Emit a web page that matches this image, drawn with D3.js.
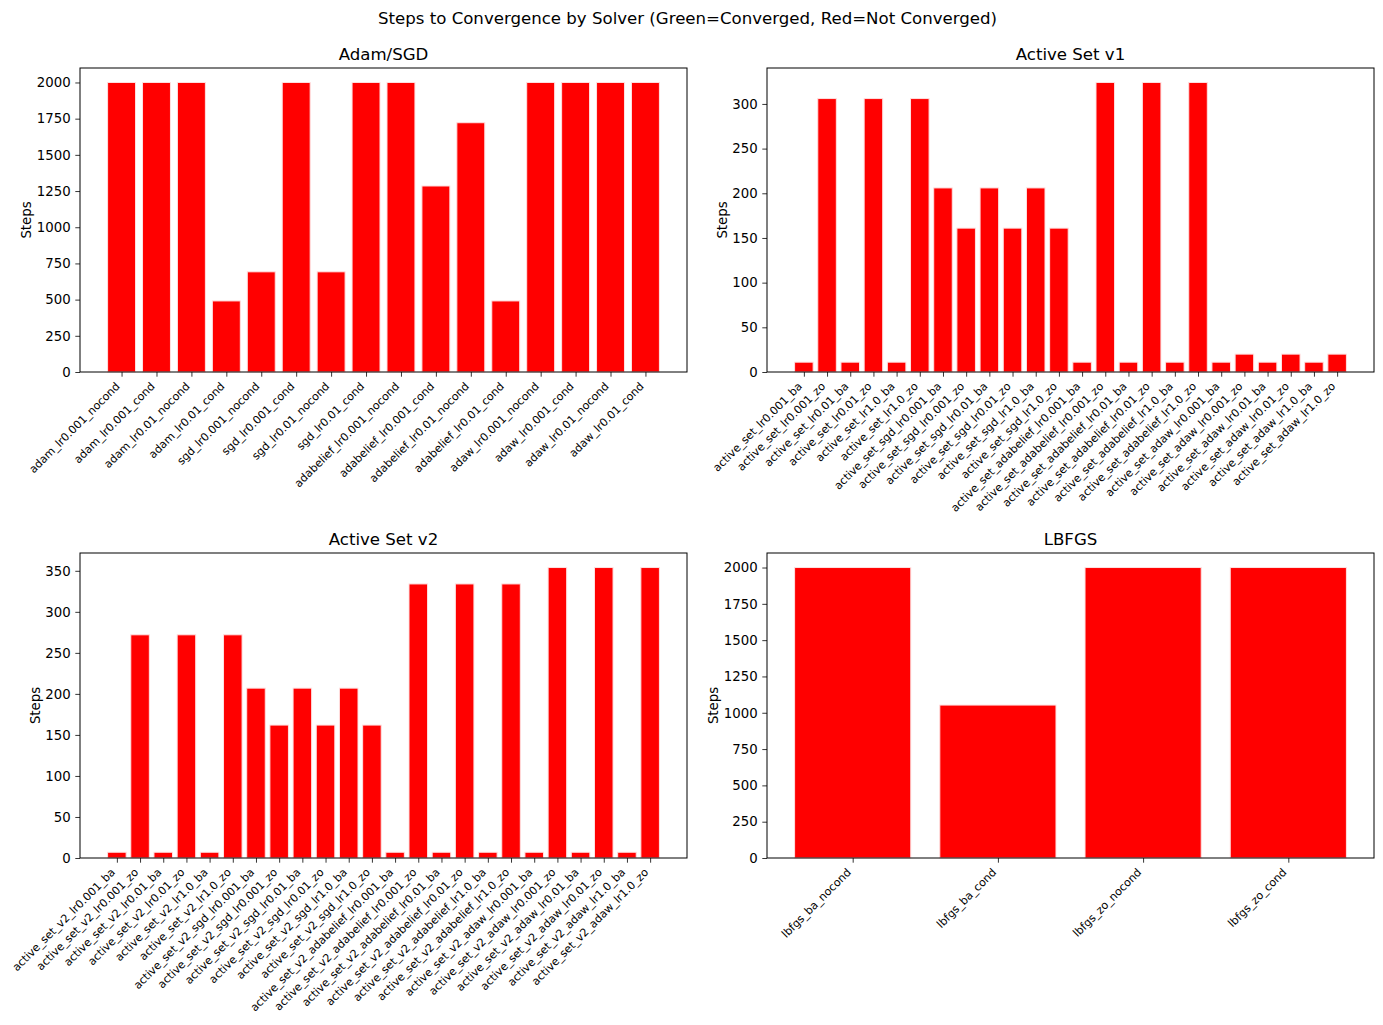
<!DOCTYPE html>
<html>
<head>
<meta charset="utf-8">
<script src="https://cdn.jsdelivr.net/npm/d3@7"></script>
<style>
  html, body { margin: 0; padding: 0; background: #fff; }
  text { font-family: "DejaVu Sans", sans-serif; fill: #000; }
</style>
</head>
<body>
<svg id="chart" width="1383" height="1025"></svg>
<script>
// ---- Data ----
const suptitle = "Steps to Convergence by Solver (Green=Converged, Red=Not Converged)";

const adamTitle = "Adam/SGD";
const adamCats = ["adam_lr0.001_nocond","adam_lr0.001_cond","adam_lr0.01_nocond","adam_lr0.01_cond",
  "sgd_lr0.001_nocond","sgd_lr0.001_cond","sgd_lr0.01_nocond","sgd_lr0.01_cond",
  "adabelief_lr0.001_nocond","adabelief_lr0.001_cond","adabelief_lr0.01_nocond","adabelief_lr0.01_cond",
  "adaw_lr0.001_nocond","adaw_lr0.001_cond","adaw_lr0.01_nocond","adaw_lr0.01_cond"];
const adamVals = [2000,2000,2000,491,692,2000,692,2000,2000,1285,1722,491,2000,2000,2000,2000];
const adamTicks = [0,250,500,750,1000,1250,1500,1750,2000];

const v1Title = "Active Set v1";
const v1Cats = ["active_set_lr0.001_ba","active_set_lr0.001_zo","active_set_lr0.01_ba","active_set_lr0.01_zo",
  "active_set_lr1.0_ba","active_set_lr1.0_zo","active_set_sgd_lr0.001_ba","active_set_sgd_lr0.001_zo",
  "active_set_sgd_lr0.01_ba","active_set_sgd_lr0.01_zo","active_set_sgd_lr1.0_ba","active_set_sgd_lr1.0_zo",
  "active_set_adabelief_lr0.001_ba","active_set_adabelief_lr0.001_zo","active_set_adabelief_lr0.01_ba","active_set_adabelief_lr0.01_zo",
  "active_set_adabelief_lr1.0_ba","active_set_adabelief_lr1.0_zo","active_set_adaw_lr0.001_ba","active_set_adaw_lr0.001_zo",
  "active_set_adaw_lr0.01_ba","active_set_adaw_lr0.01_zo","active_set_adaw_lr1.0_ba","active_set_adaw_lr1.0_zo"];
const v1Vals = [11,306,11,306,11,306,206,161,206,161,206,161,11,324,11,324,11,324,11,20,11,20,11,20];
const v1Ticks = [0,50,100,150,200,250,300];

const v2Title = "Active Set v2";
const v2Cats = ["active_set_v2_lr0.001_ba","active_set_v2_lr0.001_zo","active_set_v2_lr0.01_ba","active_set_v2_lr0.01_zo",
  "active_set_v2_lr1.0_ba","active_set_v2_lr1.0_zo","active_set_v2_sgd_lr0.001_ba","active_set_v2_sgd_lr0.001_zo",
  "active_set_v2_sgd_lr0.01_ba","active_set_v2_sgd_lr0.01_zo","active_set_v2_sgd_lr1.0_ba","active_set_v2_sgd_lr1.0_zo",
  "active_set_v2_adabelief_lr0.001_ba","active_set_v2_adabelief_lr0.001_zo","active_set_v2_adabelief_lr0.01_ba","active_set_v2_adabelief_lr0.01_zo",
  "active_set_v2_adabelief_lr1.0_ba","active_set_v2_adabelief_lr1.0_zo","active_set_v2_adaw_lr0.001_ba","active_set_v2_adaw_lr0.001_zo",
  "active_set_v2_adaw_lr0.01_ba","active_set_v2_adaw_lr0.01_zo","active_set_v2_adaw_lr1.0_ba","active_set_v2_adaw_lr1.0_zo"];
const v2Vals = [7,272,7,272,7,272,207,162,207,162,207,162,7,334,7,334,7,334,7,354,7,354,7,354];
const v2Ticks = [0,50,100,150,200,250,300,350];

const lbTitle = "LBFGS";
const lbCats = ["lbfgs_ba_nocond","lbfgs_ba_cond","lbfgs_zo_nocond","lbfgs_zo_cond"];
const lbVals = [2000,1053,2000,2000];
const lbTicks = [0,250,500,750,1000,1250,1500,1750,2000];

const yLabel = "Steps";

// ---- Layout ----
const svg = d3.select("#chart");
const panels = [
  {title: adamTitle, cats: adamCats, vals: adamVals, ticks: adamTicks, box: {l: 80, r: 687, t: 68, b: 372}},
  {title: v1Title, cats: v1Cats, vals: v1Vals, ticks: v1Ticks, box: {l: 767, r: 1374, t: 68, b: 372}},
  {title: v2Title, cats: v2Cats, vals: v2Vals, ticks: v2Ticks, box: {l: 80, r: 687, t: 553, b: 858}},
  {title: lbTitle, cats: lbCats, vals: lbVals, ticks: lbTicks, box: {l: 767, r: 1374, t: 553, b: 858}}
];

svg.append("text")
  .attr("x", 687.5).attr("y", 24)
  .attr("text-anchor", "middle")
  .style("font-size", "16.6px")
  .text(suptitle);

const tickLen = 4.7, tickPad = 4.7;

panels.forEach(p => {
  const n = p.cats.length;
  const span = (n - 1) + 0.8;
  const m = 0.05 * span;
  const x = d3.scaleLinear().domain([-0.4 - m, n - 0.6 + m]).range([p.box.l, p.box.r]);
  const ymax = d3.max(p.vals) * 1.05;
  const y = d3.scaleLinear().domain([0, ymax]).range([p.box.b, p.box.t]);
  const g = svg.append("g");

  // bars
  g.selectAll("rect.bar").data(p.vals).enter().append("rect")
    .attr("class", "bar")
    .attr("x", (d, i) => x(i - 0.4))
    .attr("width", (d, i) => x(i + 0.4) - x(i - 0.4))
    .attr("y", d => y(d))
    .attr("height", d => y(0) - y(d))
    .attr("fill", "#ff0000")
    .attr("stroke", "#ffe0e0")
    .attr("stroke-width", 1);

  // y axis
  const yAxis = d3.axisLeft(y).tickValues(p.ticks).tickSize(tickLen).tickPadding(tickPad).tickFormat(d3.format("d"));
  const ya = g.append("g").attr("transform", `translate(${p.box.l},0)`).call(yAxis);
  ya.select(".domain").remove();
  ya.selectAll("line").attr("stroke", "#000").attr("stroke-width", 0.8);
  ya.selectAll("text").style("font-size", "13.3px").attr("fill", "#000");

  // x axis
  const xAxis = d3.axisBottom(x).tickValues(d3.range(n)).tickSize(tickLen).tickFormat(i => p.cats[i]);
  const xa = g.append("g").attr("transform", `translate(0,${p.box.b})`).call(xAxis);
  xa.select(".domain").remove();
  xa.selectAll("line").attr("stroke", "#000").attr("stroke-width", 0.8);
  xa.selectAll("text")
    .style("font-size", "11.1px")
    .attr("fill", "#000")
    .attr("text-anchor", "end")
    .attr("dy", null)
    .attr("y", null)
    .attr("transform", "translate(-1.5,15) rotate(-45)");

  // frame
  g.append("rect")
    .attr("x", p.box.l).attr("y", p.box.t)
    .attr("width", p.box.r - p.box.l).attr("height", p.box.b - p.box.t)
    .attr("fill", "none").attr("stroke", "#000").attr("stroke-width", 1);

  // title
  g.append("text")
    .attr("x", (p.box.l + p.box.r) / 2).attr("y", p.box.t - 8)
    .attr("text-anchor", "middle")
    .style("font-size", "16.6px")
    .text(p.title);

  // y label
  let minX = Infinity;
  ya.selectAll("text").each(function() {
    const bb = this.getBBox();
    minX = Math.min(minX, bb.x + p.box.l);
  });
  const lx = minX - 5.5;
  g.append("text")
    .attr("transform", `translate(${lx},${(p.box.t + p.box.b) / 2}) rotate(-90)`)
    .attr("text-anchor", "middle")
    .style("font-size", "13.3px")
    .text(yLabel);
});
</script>
</body>
</html>
